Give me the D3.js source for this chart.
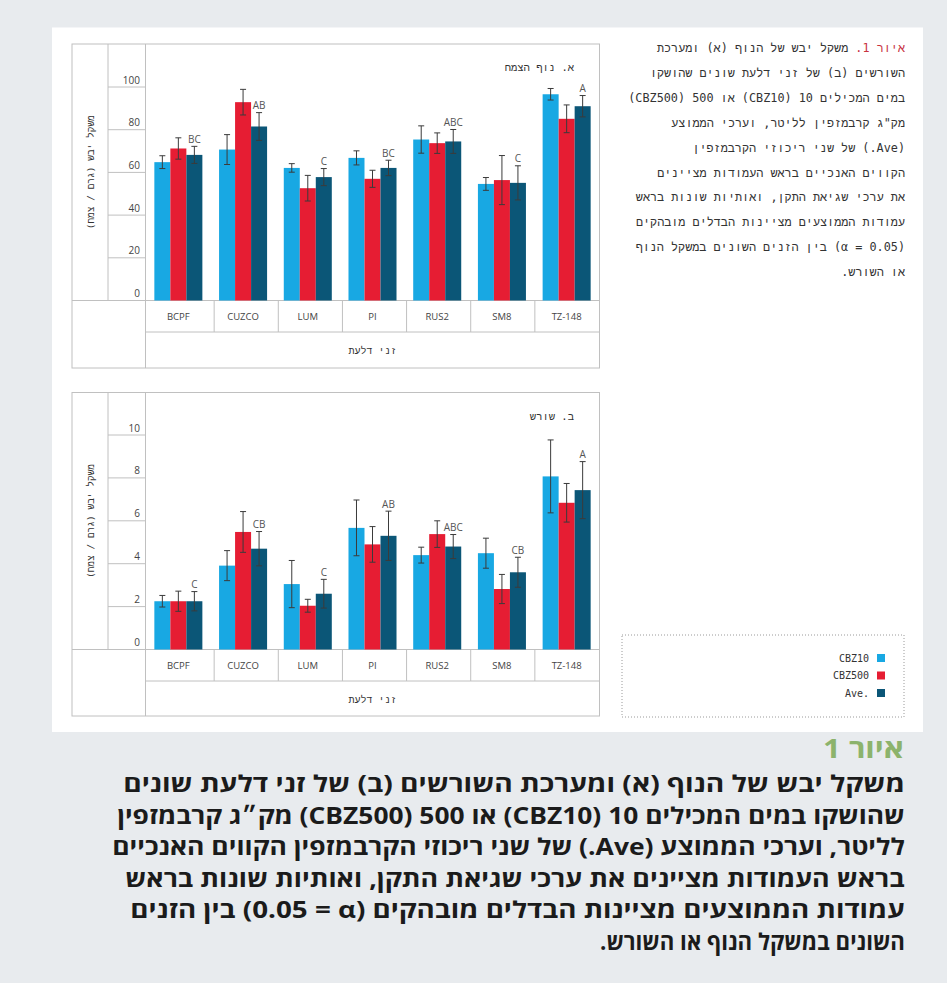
<!DOCTYPE html>
<html><head><meta charset="utf-8">
<script src="https://cdn.jsdelivr.net/npm/d3@7"></script>
<style>
html,body{margin:0;padding:0;background:#e8ebee;}
svg{display:block;}
</style></head><body>
<svg id="c" width="947" height="983"></svg>
<script>
// ---------------- data ----------------
const categories = ["BCPF","CUZCO","LUM","PI","RUS2","SM8","TZ-148"];
const seriesNames = ["CBZ10","CBZ500","Ave."];
const seriesColors = ["#18a8e3","#e61d33","#0b5677"];

const shootTicks = [0,20,40,60,80,100];
const shootCBZ10 = [64.8,70.7,62.1,66.8,75.4,54.6,96.6];
const shootCBZ10Err = [3,7,2,3.3,6.4,3,2.7];
const shootCBZ500 = [71.2,92.9,52.6,57.0,73.7,56.4,85.1];
const shootCBZ500Err = [5,6,6,4,4.8,11.5,6.5];
const shootAve = [68.2,81.5,57.8,62.1,74.5,55.1,91.0];
const shootAveErr = [4,6.5,4,3.6,5.6,8,5];
const shootLetters = ["BC","AB","C","BC","ABC","C","A"];

const rootTicks = [0,2,4,6,8,10];
const rootCBZ10 = [2.25,3.91,3.05,5.67,4.4,4.49,8.07];
const rootCBZ10Err = [0.27,0.7,1.1,1.3,0.37,0.7,1.7];
const rootCBZ500 = [2.25,5.48,2.04,4.9,5.38,2.82,6.84];
const rootCBZ500Err = [0.47,0.95,0.3,0.83,0.62,0.68,0.9];
const rootAve = [2.25,4.70,2.6,5.3,4.8,3.6,7.43];
const rootAveErr = [0.45,0.8,0.67,1.15,0.56,0.7,1.33];
const rootLetters = ["C","CB","C","AB","ABC","CB","A"];

const yAxisTitle = "משקל יבש (גרם / צמח)";
const xAxisTitle = "זני דלעת";
const shootTitle = "א. נוף הצמח";
const rootTitle = "ב. שורש";

const sideCaptionLines = [
  "משקל יבש של הנוף (א) ומערכת",
  "השורשים (ב) של זני דלעת שונים שהושקו",
  "במים המכילים 10 (CBZ10) או 500 (CBZ500)",
  "מק\"ג קרבמזפין לליטר, וערכי הממוצע",
  "(Ave.) של שני ריכוזי הקרבמזפין",
  "הקווים האנכיים בראש העמודות מציינים",
  "את ערכי שגיאת התקן, ואותיות שונות בראש",
  "עמודות הממוצעים מציינות הבדלים מובהקים",
  "(\u202Dα = 0.05\u202C) בין הזנים השונים במשקל הנוף",
  "או השורש."
];
const sideCaptionLead = "איור 1.";

const mainCaptionTitle = "איור 1";
const mainCaptionLines = [
  "משקל יבש של הנוף (א) ומערכת השורשים (ב) של זני דלעת שונים",
  "שהושקו במים המכילים 10 (CBZ10) או 500 (CBZ500) מק״ג קרבמזפין",
  "לליטר, וערכי הממוצע (Ave.) של שני ריכוזי הקרבמזפין הקווים האנכיים",
  "בראש העמודות מציינים את ערכי שגיאת התקן, ואותיות שונות בראש",
  "עמודות הממוצעים מציינות הבדלים מובהקים (\u202D0.05 = α\u202C) בין הזנים",
  "השונים במשקל הנוף או השורש."
];
const mainCaptionWidths = [782,788,793,780,775,305];

// ---------------- drawing ----------------
const svg = d3.select("#c");
const MONO = "'DejaVu Sans Mono','Liberation Mono',monospace";
const SANS = "'Open Sans','Liberation Sans',sans-serif";
const LINE = "#c0c0c0";

// white panel
svg.append("rect").attr("x",52).attr("y",27.5).attr("width",871).attr("height",704.5).attr("fill","#fff");

function rtlText(g, str, xRight, y, opts){
  const t = g.append("text").attr("direction","rtl").attr("text-anchor","middle")
    .attr("y",y).attr("font-family",opts.family).attr("font-size",opts.size)
    .attr("fill",opts.fill||"#333").attr("font-weight",opts.weight||400).text(str);
  const w = t.node().getComputedTextLength();
  t.attr("x", xRight - w/2);
  return t;
}

function drawChart(cfg){
  const g = svg.append("g");
  const x0 = 72, x1 = 599.5, xc1 = 108, xc2 = 145.5;
  const y = d3.scaleLinear().domain([0, cfg.ticks[cfg.ticks.length-1]]).range([cfg.yBase, cfg.yTopTick]);
  const x = d3.scaleBand().domain(categories).range([146, 599]).padding(0);
  const cells = d3.scaleBand().domain(categories).range([150, 599]).padding(0);
  const inner = d3.scaleBand().domain(seriesNames)
     .range([x.bandwidth()*0.129, x.bandwidth()*0.871]).padding(0);

  // frame
  g.append("rect").attr("x",x0).attr("y",cfg.yTop).attr("width",x1-x0).attr("height",cfg.yBot-cfg.yTop)
    .attr("fill","none").attr("stroke",LINE);
  g.append("line").attr("x1",xc1).attr("x2",xc1).attr("y1",cfg.yTop).attr("y2",cfg.yBase).attr("stroke",LINE);
  g.append("line").attr("x1",xc2).attr("x2",xc2).attr("y1",cfg.yTop).attr("y2",cfg.yBot).attr("stroke",LINE);
  g.append("line").attr("x1",x0).attr("x2",x1).attr("y1",cfg.yBase).attr("y2",cfg.yBase).attr("stroke",LINE);
  g.append("line").attr("x1",xc2).attr("x2",x1).attr("y1",cfg.yCat).attr("y2",cfg.yCat).attr("stroke",LINE);
  g.selectAll(".sep").data(categories.slice(1)).join("line")
    .attr("x1",d=>cells(d)).attr("x2",d=>cells(d)).attr("y1",cfg.yBase).attr("y2",cfg.yCat).attr("stroke",LINE);

  // y ticks
  g.selectAll(".tk").data(cfg.ticks.filter(t=>t>0)).join("line")
    .attr("x1",xc1).attr("x2",xc2).attr("y1",d=>y(d)).attr("y2",d=>y(d)).attr("stroke",LINE);
  g.selectAll(".tl").data(cfg.ticks).join("text")
    .attr("x",140).attr("y",d=>y(d)-3.5).attr("text-anchor","end")
    .attr("font-family",SANS).attr("font-size",10).attr("fill","#444").text(d=>d);

  // category labels
  g.selectAll(".cl").data(categories).join("text")
    .attr("x",d=>x(d)+x.bandwidth()/2).attr("y",(cfg.yBase+cfg.yCat)/2+3.5)
    .attr("text-anchor","middle").attr("font-family",SANS).attr("font-size",9.5).attr("fill","#444").text(d=>d);

  // bars
  const rows = [];
  categories.forEach((c,i)=>{
    seriesNames.forEach((s,j)=>{
      rows.push({c, s, j, v: cfg.vals[j][i], e: cfg.errs[j][i]});
    });
  });
  g.selectAll(".bar").data(rows).join("rect")
    .attr("x",d=>x(d.c)+inner(d.s)).attr("width",inner.bandwidth())
    .attr("y",d=>y(d.v)).attr("height",d=>y(0)-y(d.v)).attr("fill",d=>seriesColors[d.j]);

  // error bars
  const eb = g.selectAll(".eb").data(rows).join("g");
  const cx = d=>x(d.c)+inner(d.s)+inner.bandwidth()/2;
  eb.append("line").attr("x1",cx).attr("x2",cx).attr("y1",d=>y(d.v+d.e)).attr("y2",d=>y(d.v-d.e))
    .attr("stroke","#3b3b3b").attr("stroke-width",1);
  eb.append("line").attr("x1",d=>cx(d)-3).attr("x2",d=>cx(d)+3).attr("y1",d=>y(d.v+d.e)).attr("y2",d=>y(d.v+d.e))
    .attr("stroke","#3b3b3b").attr("stroke-width",1);
  eb.append("line").attr("x1",d=>cx(d)-3).attr("x2",d=>cx(d)+3).attr("y1",d=>y(d.v-d.e)).attr("y2",d=>y(d.v-d.e))
    .attr("stroke","#3b3b3b").attr("stroke-width",1);

  // letters above Ave bars
  g.selectAll(".lt").data(categories).join("text")
    .attr("x",d=>x(d)+inner("Ave.")+inner.bandwidth()/2)
    .attr("y",(d,i)=>y(cfg.vals[2][i]+cfg.errs[2][i])-3.5)
    .attr("text-anchor","middle").attr("font-family",SANS).attr("font-size",10).attr("fill","#555")
    .text((d,i)=>cfg.letters[i]);

  // titles
  rtlText(g, cfg.title, 574, cfg.yTop+27, {family:MONO, size:10.5, fill:"#333"});
  g.append("text").attr("direction","rtl").attr("text-anchor","middle")
    .attr("x",372.5).attr("y",(cfg.yCat+cfg.yBot)/2+4)
    .attr("font-family",MONO).attr("font-size",10).attr("fill","#333").text(xAxisTitle);
  g.append("text").attr("direction","rtl").attr("text-anchor","middle")
    .attr("transform",`translate(94,${(cfg.yTop+cfg.yBase)/2}) rotate(-90)`)
    .attr("font-family",MONO).attr("font-size",9.5).attr("fill","#333").text(yAxisTitle);
}

drawChart({yTop:44, yBase:300.5, yCat:332, yBot:368, yTopTick:87, ticks:shootTicks,
  vals:[shootCBZ10,shootCBZ500,shootAve], errs:[shootCBZ10Err,shootCBZ500Err,shootAveErr],
  letters:shootLetters, title:shootTitle});
drawChart({yTop:392.5, yBase:649.5, yCat:681, yBot:716, yTopTick:435, ticks:rootTicks,
  vals:[rootCBZ10,rootCBZ500,rootAve], errs:[rootCBZ10Err,rootCBZ500Err,rootAveErr],
  letters:rootLetters, title:rootTitle});

// side caption
const sc = svg.append("g");
sideCaptionLines.forEach((line,i)=>{
  const yy = 52 + i*24.9;
  const t = sc.append("text").attr("direction","rtl").attr("text-anchor","middle").attr("y",yy)
    .attr("font-family",MONO).attr("font-size",11.8).attr("fill","#333");
  if(i===0){
    t.append("tspan").attr("fill","#c8323f").text(sideCaptionLead + " ");
  }
  t.append("tspan").text(line);
  const w = t.node().getComputedTextLength();
  t.attr("x", 905 - w/2);
});

// legend
svg.append("rect").attr("x",622).attr("y",635).attr("width",282).attr("height",82)
  .attr("fill","none").attr("stroke","#9a9a9a").attr("stroke-dasharray","1,2");
const lg = svg.selectAll(".lg").data(seriesNames).join("g")
  .attr("transform",(d,i)=>`translate(0,${658 + i*17.5})`);
lg.append("rect").attr("x",877).attr("y",-4).attr("width",8).attr("height",8).attr("fill",(d,i)=>seriesColors[i]);
lg.append("text").attr("x",869).attr("y",3.5).attr("text-anchor","end")
  .attr("font-family",MONO).attr("font-size",10).attr("fill","#333").text(d=>d);

// main caption title (condensed)
{
  const gg = svg.append("g");
  const t = gg.append("text").attr("direction","rtl").attr("text-anchor","middle").attr("y",0)
    .attr("font-family",SANS).attr("font-size",27).attr("font-weight",700).attr("fill","#8cb36c").text(mainCaptionTitle);
  const w = t.node().getComputedTextLength();
  t.attr("x",-w/2);
  gg.attr("transform",`translate(904,758) scale(${81/w},1)`);
}
mainCaptionLines.forEach((line,i)=>{
  const gg = svg.append("g");
  const t = gg.append("text").attr("direction","rtl").attr("text-anchor","middle").attr("y",0)
    .attr("font-family",SANS).attr("font-size",23).attr("font-weight",700).attr("fill","#1b1b1b").text(line);
  const w = t.node().getComputedTextLength();
  t.attr("x",-w/2);
  const sx = mainCaptionWidths[i]/w;
  gg.attr("transform",`translate(905,${792 + i*31.5}) scale(${sx},1)`);
});
</script>
</body></html>
